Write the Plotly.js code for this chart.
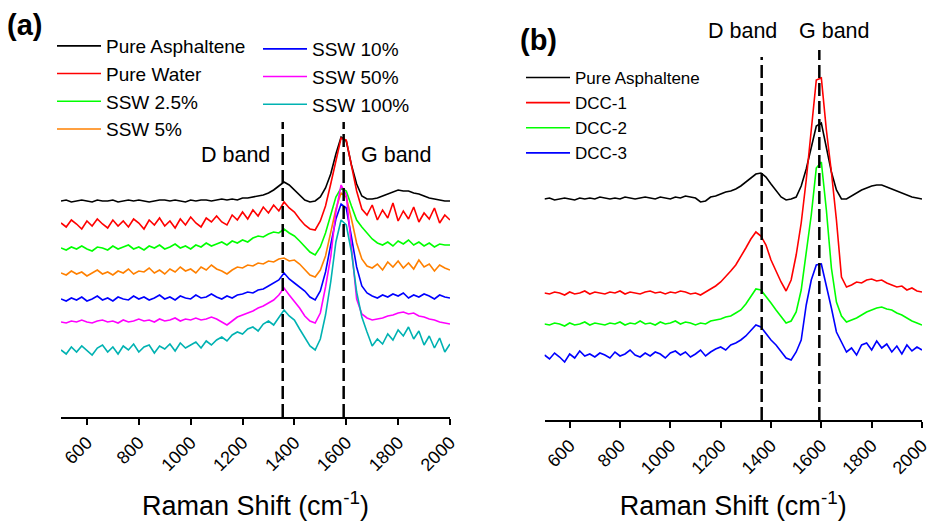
<!DOCTYPE html>
<html>
<head>
<meta charset="utf-8">
<script src="https://cdn.plot.ly/plotly-3.0.1.min.js"></script>
<style>html,body{margin:0;padding:0;background:#fff;}#chart{width:928px;height:521px;}</style>
</head>
<body>
<div id="chart"></div>
<script>
// Raman shift grid (cm-1)
const ramanShift = [500,520,540,560,580,600,620,640,660,680,700,720,740,760,780,800,820,840,860,880,
  900,920,940,960,980,1000,1020,1040,1060,1080,1100,1120,1140,1160,1180,1200,1220,1240,1260,1280,
  1300,1320,1340,1360,1380,1400,1420,1440,1460,1480,1500,1520,1540,1560,1580,1600,1620,1640,1660,1680,
  1700,1720,1740,1760,1780,1800,1820,1840,1860,1880,1900,1920,1940,1960,1980,2000];

// Panel (a) – stacked intensities (a.u., offset)
const a_pureAsphaltene = [216,217,215,216,217,216,215,217,216,216,217,215,216,217,216,217,216,215,216,217,217,216,217,216,215,217,216,217,217,216,217,218,217,218,217,
  219,219,220,221,222,224,227,231,235,232,227,221,217,215,216,
  220,229,243,263,280,276,252,233,221,
  218,218,219,221,223,225,227,226,226,224,223,221,219,218,217,216,216];
const a_pureWater = [194,190,197,193,188,196,191,198,193,189,197,191,196,190,198,194,188,197,192,199,191,196,189,198,192,200,194,190,199,195,201,195,192,202,197,
  205,198,207,201,210,204,212,206,215,209,205,198,192,188,187,
  196,211,233,256,279,277,250,226,208,
  202,212,197,207,199,214,196,206,198,210,195,204,198,209,194,202,197];
const a_ssw2_5 = [169,167,170,168,171,168,166,170,169,167,171,168,170,172,168,170,167,171,169,172,168,170,173,169,171,168,172,170,174,171,173,175,172,176,174,
  177,175,179,181,180,183,185,184,188,184,181,176,171,165,162,
  170,184,203,220,229,226,211,197,190,
  184,178,174,172,175,171,176,173,177,172,175,171,174,170,173,172,172];
const a_ssw5 = [144,142,146,143,145,141,144,147,143,145,142,146,144,148,143,146,145,149,144,147,143,148,145,150,146,148,144,150,147,152,148,146,143,147,150,
  149,152,151,154,153,156,155,158,159,156,157,153,148,142,140,
  147,161,184,208,224,220,198,174,158,
  151,149,153,147,155,150,156,149,154,148,157,150,153,146,152,149,147];
const a_ssw10 = [118,116,119,117,120,116,118,121,117,119,116,120,118,117,121,118,120,117,119,122,118,120,117,121,119,118,122,119,120,123,120,118,121,119,122,
  123,125,124,127,128,131,134,137,144,138,134,130,126,120,117,
  126,145,172,198,213,209,180,150,131,
  124,121,119,122,120,123,121,124,119,122,120,123,121,118,122,120,119];
const a_ssw50 = [95,94,96,95,97,95,94,96,97,95,96,94,97,95,96,98,96,97,95,98,96,97,99,96,98,97,99,97,98,100,98,95,92,96,100,
  102,104,106,109,111,114,117,122,129,122,116,109,101,96,94,
  104,130,160,205,232,222,167,118,103,
  99,97,98,99,101,102,104,105,103,104,101,100,98,97,95,94,93];
const a_ssw100 = [67,63,70,65,71,66,62,69,72,65,70,63,71,67,73,65,70,72,64,71,68,73,66,74,69,72,75,69,76,72,77,80,76,82,85,
  83,88,90,86,93,96,92,100,107,101,97,88,80,71,67,
  78,102,135,175,197,192,165,125,100,
  85,71,78,73,83,77,87,81,90,78,86,72,81,69,79,65,73];

// Panel (b)
const b_pureAsphaltene = [221,222,220,221,222,221,220,222,221,222,221,223,222,221,222,221,223,222,221,222,223,222,221,223,222,221,223,222,224,223,222,218,219,223,224,
  226,228,229,231,234,238,242,246,247,243,236,229,223,220,221,
  223,234,251,273,294,297,272,248,230,
  221,221,224,227,230,232,234,235,235,233,231,229,227,225,223,222,221];
const b_dcc1 = [127,126,128,127,125,128,126,127,129,126,128,127,126,128,127,129,126,128,127,126,128,129,127,128,126,128,127,129,128,126,127,125,128,131,134,
  138,143,149,155,163,172,181,188,184,175,160,149,138,129,140,
  165,197,240,290,340,342,290,248,200,
  143,133,135,138,137,140,141,139,140,137,135,133,134,130,132,129,128];
const b_dcc2 = [96,95,97,96,94,97,95,96,98,95,97,96,95,97,96,98,95,97,96,99,96,97,95,98,96,97,99,96,98,97,95,97,96,99,100,
  101,103,104,107,110,116,123,131,130,124,117,110,103,97,99,
  108,130,165,205,252,258,210,152,118,
  104,98,100,102,105,108,110,112,113,111,110,107,105,102,99,97,95];
const b_dcc3 = [65,61,67,63,58,66,62,69,64,66,63,67,65,62,68,64,66,70,65,63,67,64,68,66,62,67,69,65,68,63,66,70,64,68,71,
  73,70,75,77,80,84,90,95,93,86,80,75,68,62,60,
  68,80,115,140,155,156,135,112,88,
  78,68,72,65,75,77,70,79,72,76,68,74,66,75,69,73,70];

// Band positions (cm-1)
const bandsA = {D: 1355, G: 1590};
const bandsB = {D: 1363, G: 1592};

const seriesA = [
  {name: 'Pure Asphaltene', y: a_pureAsphaltene, color: '#000000', legend: 'legend'},
  {name: 'Pure Water', y: a_pureWater, color: '#ff0000', legend: 'legend'},
  {name: 'SSW 2.5%', y: a_ssw2_5, color: '#00ff00', legend: 'legend'},
  {name: 'SSW 5%', y: a_ssw5, color: '#ff8000', legend: 'legend'},
  {name: 'SSW 10%', y: a_ssw10, color: '#0000ff', legend: 'legend2'},
  {name: 'SSW 50%', y: a_ssw50, color: '#ff00ff', legend: 'legend2'},
  {name: 'SSW 100%', y: a_ssw100, color: '#00b2b2', legend: 'legend2'}
];
const seriesB = [
  {name: 'Pure Asphaltene', y: b_pureAsphaltene, color: '#000000'},
  {name: 'DCC-1', y: b_dcc1, color: '#ff0000'},
  {name: 'DCC-2', y: b_dcc2, color: '#00ff00'},
  {name: 'DCC-3', y: b_dcc3, color: '#0000ff'}
];

const traces = [];
seriesA.forEach(s => traces.push({x: ramanShift, y: s.y, name: s.name, type: 'scatter', mode: 'lines',
  line: {color: s.color, width: 1.6}, xaxis: 'x', yaxis: 'y', legend: s.legend}));
seriesB.forEach(s => traces.push({x: ramanShift, y: s.y, name: s.name, type: 'scatter', mode: 'lines',
  line: {color: s.color, width: 1.6}, xaxis: 'x2', yaxis: 'y2', legend: 'legend3'}));

const FONT = 'Arial, "Liberation Sans", sans-serif';
const xTickVals = [600,800,1000,1200,1400,1600,1800,2000];
function xAxis(domain, anchor) {
  return {domain: domain, anchor: anchor, range: [500, 2000], tickvals: xTickVals, tickangle: -45,
    ticks: 'outside', ticklen: 6, tickwidth: 2, tickcolor: '#000', showline: true, linewidth: 2, linecolor: '#000',
    showgrid: false, zeroline: false, automargin: false, ticklabeloverflow: 'allow',
    tickfont: {family: FONT, size: 18, color: '#000'},
    title: {text: 'Raman Shift (cm<sup>-1</sup>)', font: {family: FONT, size: 27, color: '#000'}, standoff: 22}};
}
function yAxis(domain, anchor, top) {
  return {domain: domain, anchor: anchor, range: [0, top], visible: false, showgrid: false, zeroline: false, fixedrange: true};
}
function bandLine(xref, yref, xv, ytop) {
  return {type: 'line', xref: xref, yref: yref, x0: xv, x1: xv, y0: 0, y1: ytop,
    line: {color: '#000', width: 2.5, dash: '13px,5px'}};
}
function legendCfg(x, y, size) {
  return {x: x, y: y, xanchor: 'left', yanchor: 'top', bgcolor: 'rgba(0,0,0,0)', itemwidth: 44,
    font: {family: FONT, size: size, color: '#000'}, tracegroupgap: 0};
}

const layout = {
  width: 928, height: 521, margin: {l: 0, r: 0, t: 0, b: 0},
  paper_bgcolor: '#fff', plot_bgcolor: 'rgba(0,0,0,0)', showlegend: true,
  xaxis: xAxis([61/928, 450/928], 'y'),
  yaxis: yAxis([104/521, 461/521], 'x', 357),
  xaxis2: xAxis([544.5/928, 922/928], 'y2'),
  yaxis2: yAxis([101/521, 481/521], 'x2', 380),
  legend: legendCfg(52/928, 1 - 27/521, 19),
  legend2: legendCfg(258/928, 1 - 30/521, 19),
  legend3: legendCfg(521/928, 1 - 60/521, 17),
  shapes: [
    bandLine('x', 'y', bandsA.D, 295), bandLine('x', 'y', bandsA.G, 295),
    bandLine('x2', 'y2', bandsB.D, 363), bandLine('x2', 'y2', bandsB.G, 370)
  ],
  annotations: [
    {text: '<b>(a)</b>', xref: 'paper', yref: 'paper', x: 5/928, y: 1 - 25/521, xanchor: 'left', yanchor: 'middle', showarrow: false, font: {family: FONT, size: 29, color: '#000'}},
    {text: '<b>(b)</b>', xref: 'paper', yref: 'paper', x: 518/928, y: 1 - 40/521, xanchor: 'left', yanchor: 'middle', showarrow: false, font: {family: FONT, size: 29, color: '#000'}},
    {text: 'D band', xref: 'paper', yref: 'paper', x: 236/928, y: 1 - 155/521, xanchor: 'center', yanchor: 'middle', showarrow: false, font: {family: FONT, size: 21.5, color: '#000'}},
    {text: 'G band', xref: 'paper', yref: 'paper', x: 396/928, y: 1 - 155/521, xanchor: 'center', yanchor: 'middle', showarrow: false, font: {family: FONT, size: 21.5, color: '#000'}},
    {text: 'D band', xref: 'paper', yref: 'paper', x: 742/928, y: 1 - 31/521, xanchor: 'center', yanchor: 'middle', showarrow: false, font: {family: FONT, size: 21.5, color: '#000'}},
    {text: 'G band', xref: 'paper', yref: 'paper', x: 834/928, y: 1 - 31/521, xanchor: 'center', yanchor: 'middle', showarrow: false, font: {family: FONT, size: 21.5, color: '#000'}}
  ]
};

Plotly.newPlot('chart', traces, layout, {displayModeBar: false, staticPlot: true});
</script>
</body>
</html>
